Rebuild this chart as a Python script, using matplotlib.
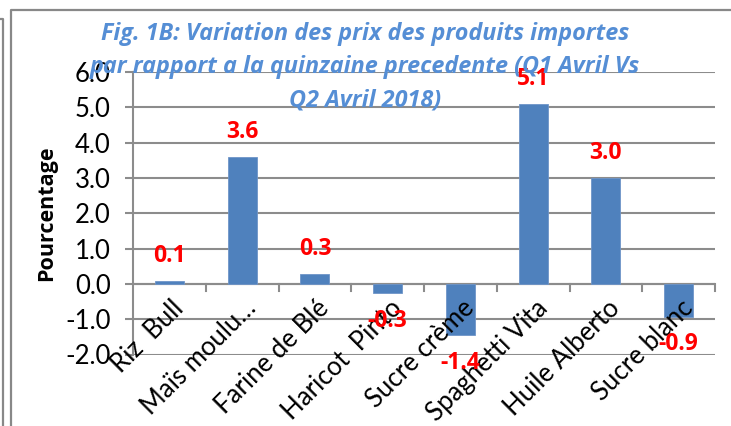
import matplotlib
matplotlib.use("Agg")
import matplotlib.pyplot as plt
from matplotlib.lines import Line2D
import numpy as np

categories = ["Riz  Bull", "Maïs moulu…", "Farine de Blé", "Haricot  Pinto",
              "Sucre crème", "Spaghetti Vita", "Huile Alberto", "Sucre blanc"]
values = [0.07, 3.59, 0.27, -0.26, -1.44, 5.10, 3.00, -0.93]
yticks = [-2.0, -1.0, 0.0, 1.0, 2.0, 3.0, 4.0, 5.0, 6.0]
title_lines = ["Fig. 1B: Variation des prix des produits importes",
               "par rapport a la quinzaine precedente (Q1 Avril Vs",
               "Q2 Avril 2018)"]

plt.rcParams['font.family'] = ['Lato', 'DejaVu Sans']
plt.rcParams['axes.unicode_minus'] = False
BOLD = ['Open Sans', 'DejaVu Sans']

W, H = 731, 426
fig = plt.figure(figsize=(W / 100, H / 100), dpi=100)
ax = fig.add_axes([133 / W, 1 - 354.5 / H, (715 - 133) / W, (354.5 - 72) / H])

grid_c = '#8c8c8c'
x = np.arange(len(categories))
ax.bar(x, values, width=0.4, color='#4F81BD', edgecolor='#6f95c8', linewidth=0.6, zorder=3)

ax.set_xlim(-0.5, len(categories) - 0.5)
ax.set_ylim(yticks[0], yticks[-1])
ax.set_yticks(yticks)
ax.set_yticklabels([f"{v:.1f}" for v in yticks], fontsize=18.5, color='black')
ax.yaxis.grid(True, color=grid_c, linewidth=1.5, zorder=1)
ax.tick_params(axis='y', length=6, width=1.5, color=grid_c, pad=10)
for s in ['top', 'right', 'bottom']:
    ax.spines[s].set_visible(False)
ax.spines['left'].set_color(grid_c)
ax.spines['left'].set_linewidth(1.5)

# x axis line at zero with category boundary ticks
ax.set_xticks([])
ax.axhline(0, color=grid_c, linewidth=1.5, zorder=2)
for b in np.arange(0.5, len(categories) - 0.5 + 1e-9, 1.0):
    ax.plot([b, b], [0, -0.2], color=grid_c, linewidth=1.5, zorder=2, clip_on=False)

# category labels
for i, lab in enumerate(categories):
    ax.text(i + 0.02, -0.33, lab, rotation=45, rotation_mode='anchor',
            ha='right', va='top', fontsize=18.5, color='black', zorder=4)

# data labels
for i, v in enumerate(values):
    off = 18 if v >= 0 else -20
    ax.annotate(f"{v:.1f}", (i, v), xytext=(0, off), textcoords='offset points',
                ha='center', va='center', fontsize=16.5, fontweight='bold',
                family=BOLD, color='#FF0000', zorder=5)

ax.set_ylabel("Pourcentage", fontsize=15.5, fontweight='bold', family=BOLD)
ax.yaxis.set_label_coords((57 - 133) / 582, 0.5)

# title
tc = '#558ED5'
for ty, t in zip([34, 67, 100], title_lines):
    fig.text(365 / W, 1 - ty / H, t, ha='center', va='center', fontsize=16.8,
             fontweight='bold', fontstyle='italic', family=BOLD, color=tc, zorder=10)

# outer frames
fc = '#888888'
fig.add_artist(Line2D([0 / W, 2.5 / W, 2.5 / W], [1 - 19 / H, 1 - 19 / H, 0],
                      transform=fig.transFigure, color=fc, linewidth=1.6))
fig.add_artist(Line2D([10.5 / W, 10.5 / W, 1], [0, 1 - 10 / H, 1 - 10 / H],
                      transform=fig.transFigure, color=fc, linewidth=1.6))

fig.savefig("out.png", dpi=100)
